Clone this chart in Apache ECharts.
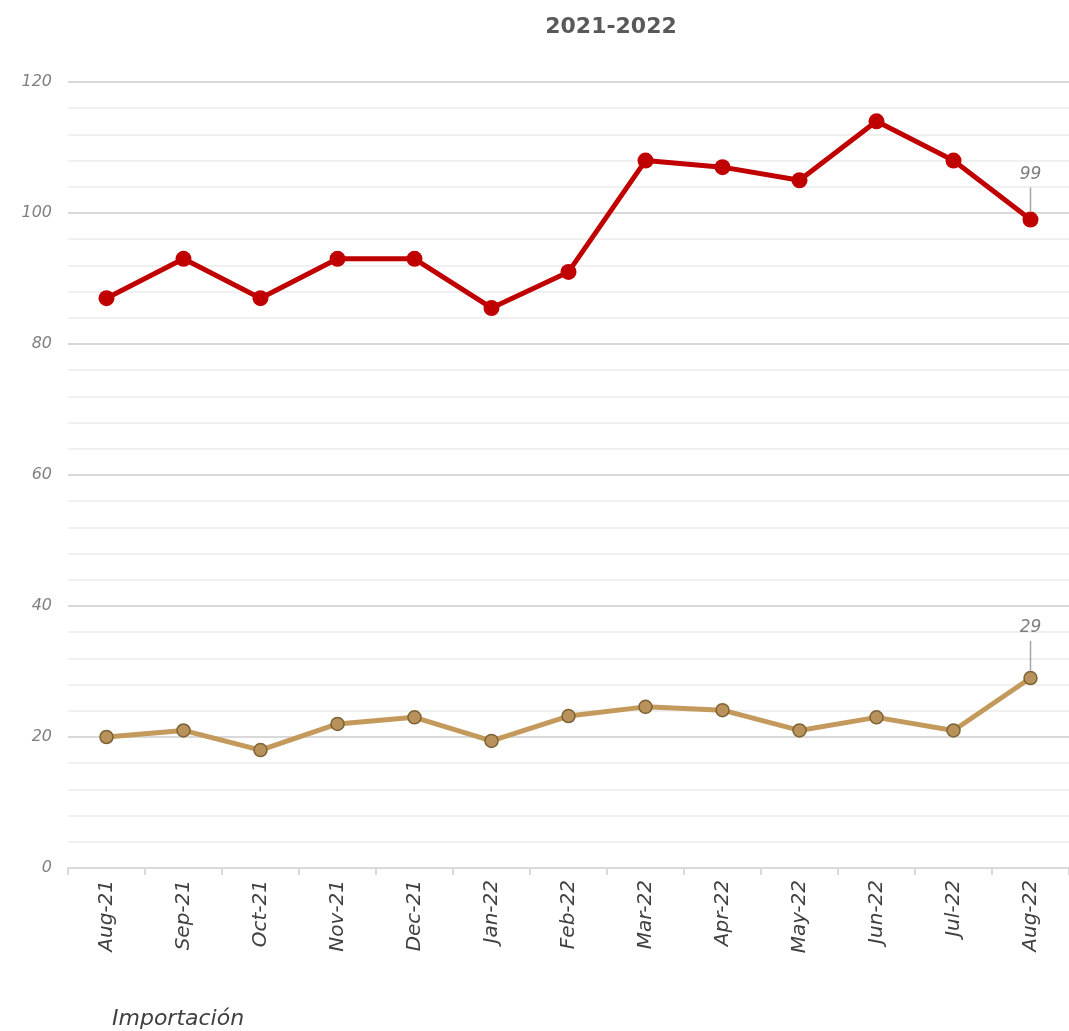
<!DOCTYPE html>
<html>
<head>
<meta charset="utf-8">
<script src="https://cdn.jsdelivr.net/npm/echarts@6/dist/echarts.min.js"></script>
<style>
html,body{margin:0;padding:0;background:#fff;}
#chart{width:1069px;height:1031px;}
</style>
</head>
<body>
<div id="chart"></div>
<script>
var months = ['Aug-21','Sep-21','Oct-21','Nov-21','Dec-21','Jan-22','Feb-22','Mar-22','Apr-22','May-22','Jun-22','Jul-22','Aug-22'];
var redValues = [87, 93, 87, 93, 93, 85.5, 91, 108, 107, 105, 114, 108, 99];
var goldValues = [20, 21, 18, 22, 23, 19.4, 23.2, 24.6, 24.1, 21, 23, 21, 29];
var yTicks = [0, 20, 40, 60, 80, 100, 120];

var FONT = 'DejaVu Sans';

// only the last point gets a value label, with a short vertical leader under it
function withEndLabel(vals, barH) {
    return vals.map(function (v, i) {
        if (i !== vals.length - 1) return v;
        return {
            value: v,
            label: {
                show: true, position: 'top', distance: 0,
                formatter: '{v|{c}}\n{l|}',
                rich: {
                    v: { color: '#7f7f7f', fontSize: 17, fontStyle: 'italic', fontFamily: FONT, lineHeight: 20, padding: [0, 0, 6, 0] },
                    l: { width: 1.5, height: barH, backgroundColor: '#a6a6a6' }
                }
            }
        };
    });
}

var myChart = echarts.init(document.getElementById('chart'));
myChart.setOption({
    animation: false,
    title: [{
        text: '2021-2022',
        left: 606, top: 11,
        textAlign: 'center',
        textStyle: { color: '#595959', fontSize: 22, fontWeight: 'bold', fontFamily: FONT }
    }, {
        text: 'Importación',
        left: 107, top: 1003,
        textStyle: { color: '#404040', fontSize: 22, fontWeight: 'normal', fontStyle: 'italic', fontFamily: FONT }
    }],
    grid: { left: 68, right: 0, top: 82, bottom: 163 },
    xAxis: {
        type: 'category',
        data: months,
        boundaryGap: true,
        axisLine: { lineStyle: { color: '#d9d9d9', width: 2 } },
        axisTick: { show: true, length: 7, lineStyle: { color: '#d9d9d9', width: 2 } },
        axisLabel: {
            rotate: 90, margin: 12,
            color: '#404040', fontSize: 20, fontStyle: 'italic', fontFamily: FONT
        }
    },
    yAxis: {
        type: 'value',
        min: yTicks[0], max: yTicks[yTicks.length - 1], interval: 20,
        axisLine: { show: false },
        axisTick: { show: false },
        axisLabel: {
            margin: 16,
            color: '#808080', fontSize: 16, fontStyle: 'italic', fontFamily: FONT
        },
        splitLine: { lineStyle: { color: '#d9d9d9', width: 2 } },
        minorTick: { show: false, splitNumber: 5 },
        minorSplitLine: { show: true, lineStyle: { color: '#f0f0f0', width: 2 } }
    },
    series: [{
        type: 'line',
        data: withEndLabel(redValues, 24),
        symbol: 'circle', symbolSize: 16,
        lineStyle: { color: '#c00000', width: 5 },
        itemStyle: { color: '#c00000' },
        z: 3
    }, {
        type: 'line',
        data: withEndLabel(goldValues, 30),
        symbol: 'circle', symbolSize: 13,
        lineStyle: { color: '#c49a5c', width: 5 },
        itemStyle: { color: '#b8925a', borderColor: '#7d6234', borderWidth: 1.5 },
        z: 2
    }]
});
</script>
</body>
</html>
